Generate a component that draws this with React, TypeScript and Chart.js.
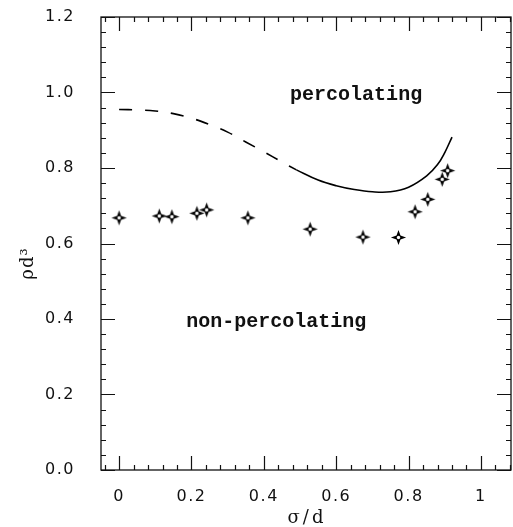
import React, { useEffect, useRef } from "react";
import { Chart, registerables } from "chart.js";

Chart.register(...registerables);

// Simulation points (sigma/d, rho d^3)
const sigmaData = [0.0, 0.111, 0.146, 0.215, 0.242, 0.356, 0.528, 0.674, 0.772, 0.818, 0.853, 0.893, 0.908];
const rhoData = [0.668, 0.673, 0.671, 0.68, 0.689, 0.668, 0.638, 0.617, 0.616, 0.684, 0.717, 0.77, 0.793];

// Theory curve: dashed part and solid part
const dashedSigma = [0, 0.05, 0.1, 0.15, 0.2, 0.25, 0.3, 0.35, 0.4, 0.45, 0.49];
const dashedRho = [0.955, 0.954, 0.951, 0.944, 0.932, 0.915, 0.895, 0.869, 0.843, 0.816, 0.795];
const solidSigma = [0.49, 0.55, 0.6, 0.65, 0.7, 0.75, 0.8, 0.85, 0.88, 0.9, 0.92];
const solidRho = [0.795, 0.768, 0.753, 0.743, 0.737, 0.737, 0.749, 0.779, 0.809, 0.841, 0.882];

// Axis ticks
const xTickValues = [0, 0.2, 0.4, 0.6, 0.8, 1];
const xTickLabels = ["0", "0.2", "0.4", "0.6", "0.8", "1"];
const yTickValues = [0, 0.2, 0.4, 0.6, 0.8, 1.0, 1.2];
const yTickLabels = ["0.0", "0.2", "0.4", "0.6", "0.8", "1.0", "1.2"];

// Region labels
const regionLabels = ["percolating", "non-percolating"];
const regionSigma = [0.655, 0.434];
const regionRho = [0.993, 0.392];

const xTitle = "σ/d";
const yTitle = "ρd³";

function makeStar(): HTMLCanvasElement {
  const s = 17;
  const c = document.createElement("canvas");
  c.width = s;
  c.height = s;
  const g = c.getContext("2d")!;
  const cx = s / 2;
  const cy = s / 2;
  const R = 7.6;
  const r = 2.8;
  g.beginPath();
  for (let i = 0; i < 8; i++) {
    const ang = (i * Math.PI) / 4 - Math.PI / 2;
    const rad = i % 2 === 0 ? R : r;
    const px = cx + rad * Math.cos(ang);
    const py = cy + rad * Math.sin(ang);
    if (i === 0) g.moveTo(px, py);
    else g.lineTo(px, py);
  }
  g.closePath();
  g.fillStyle = "#000";
  g.fill();
  g.beginPath();
  g.arc(cx, cy, 1.7, 0, Math.PI * 2);
  g.fillStyle = "#fff";
  g.fill();
  return c;
}

const framePlugin = {
  id: "framePlugin",
  beforeDraw(chart: any) {
    chart.ctx.letterSpacing = "1.5px";
  },
  afterDraw(chart: any) {
    const ctx = chart.ctx as CanvasRenderingContext2D;
    const { left, right, top, bottom } = chart.chartArea;
    const xs = chart.scales.x;
    const ys = chart.scales.y;
    ctx.save();
    (ctx as any).letterSpacing = "0px";
    ctx.strokeStyle = "#111";
    ctx.lineWidth = 1.3;
    ctx.strokeRect(left, top, right - left, bottom - top);

    const major = 14;
    const minor = 5;
    const step = 0.04;
    ctx.lineWidth = 1.2;
    ctx.beginPath();
    // x ticks (bottom and top, inward)
    for (let k = Math.ceil(xs.min / step); k <= Math.floor(xs.max / step); k++) {
      const v = k * step;
      const isMajor = Math.abs(v / 0.2 - Math.round(v / 0.2)) < 1e-6;
      const len = isMajor ? major : minor;
      const px = Math.round(xs.getPixelForValue(v)) + 0.5;
      ctx.moveTo(px, bottom);
      ctx.lineTo(px, bottom - len);
      ctx.moveTo(px, top);
      ctx.lineTo(px, top + len);
    }
    // y ticks (left and right, inward)
    for (let k = Math.ceil(ys.min / step); k <= Math.floor(ys.max / step + 1e-9); k++) {
      const v = k * step;
      const isMajor = Math.abs(v / 0.2 - Math.round(v / 0.2)) < 1e-6;
      const len = isMajor ? major : minor;
      const py = Math.round(ys.getPixelForValue(v)) + 0.5;
      ctx.moveTo(left, py);
      ctx.lineTo(left + len, py);
      ctx.moveTo(right, py);
      ctx.lineTo(right - len, py);
    }
    ctx.stroke();

    // region labels
    ctx.fillStyle = "#111";
    ctx.font = 'bold 20px "Liberation Mono"';
    ctx.textAlign = "center";
    ctx.textBaseline = "middle";
    regionLabels.forEach((lab, i) => {
      ctx.fillText(lab, xs.getPixelForValue(regionSigma[i]), ys.getPixelForValue(regionRho[i]));
    });

    // axis titles
    ctx.font = '18px "DejaVu Serif"';
    (ctx as any).letterSpacing = "3px";
    ctx.fillText(xTitle, (left + right) / 2 + 1, 518);
    ctx.save();
    ctx.translate(28, (top + bottom) / 2 + 20);
    ctx.rotate(-Math.PI / 2);
    (ctx as any).letterSpacing = "1px";
    ctx.fillText(yTitle, 0, 0);
    ctx.restore();
    ctx.restore();
  },
};

function zeroPadding(s: any) {
  s.paddingTop = 0;
  s.paddingBottom = 0;
  s.paddingLeft = 0;
  s.paddingRight = 0;
}

export default function App() {
  const ref = useRef<HTMLCanvasElement>(null);
  useEffect(() => {
    if (!ref.current) return;
    const star = makeStar();
    const chart = new Chart(ref.current, {
      type: "scatter",
      data: {
        datasets: [
          {
            label: "simulation",
            data: sigmaData.map((x, i) => ({ x, y: rhoData[i] })),
            pointStyle: star as any,
            pointRadius: 8,
            showLine: false,
          },
          {
            label: "theory (dashed)",
            data: dashedSigma.map((x, i) => ({ x, y: dashedRho[i] })),
            showLine: true,
            borderColor: "#000",
            borderWidth: 1.6,
            borderDash: [13, 13],
            pointRadius: 0,
            tension: 0.4,
          },
          {
            label: "theory",
            data: solidSigma.map((x, i) => ({ x, y: solidRho[i] })),
            showLine: true,
            borderColor: "#000",
            borderWidth: 1.6,
            pointRadius: 0,
            tension: 0.4,
          },
        ],
      },
      options: {
        animation: false,
        responsive: false,
        devicePixelRatio: 1,
        layout: { autoPadding: false, padding: { top: 17, right: 2, left: 0, bottom: 0 } },
        plugins: { legend: { display: false }, tooltip: { enabled: false } },
        scales: {
          x: {
            type: "linear",
            min: -0.05,
            max: 1.083,
            grid: { display: false },
            border: { display: false },
            afterBuildTicks: (s: any) => {
              s.ticks = xTickValues.map((v) => ({ value: v }));
            },
            afterFit: (s: any) => {
              s.height = 57;
              zeroPadding(s);
            },
            ticks: {
              padding: 9,
              color: "#111",
              font: { family: '"DejaVu Sans"', size: 16 },
              maxRotation: 0,
              autoSkip: false,
              callback: (v: any) => xTickLabels[xTickValues.indexOf(Number(v))] ?? "",
            },
          },
          y: {
            type: "linear",
            min: 0,
            max: 1.2,
            grid: { display: false },
            border: { display: false },
            afterBuildTicks: (s: any) => {
              s.ticks = yTickValues.map((v) => ({ value: v }));
            },
            afterFit: (s: any) => {
              s.width = 101;
              zeroPadding(s);
            },
            ticks: {
              padding: 18,
              color: "#111",
              font: { family: '"DejaVu Sans"', size: 16 },
              autoSkip: false,
              callback: (v: any) => yTickLabels[yTickValues.indexOf(Number(v))] ?? "",
            },
          },
        },
      },
      plugins: [framePlugin],
    });
    return () => chart.destroy();
  }, []);
  return (
    <div style={{ position: "fixed", left: 0, top: 0, width: 513, height: 527, background: "#fff" }}>
      <canvas ref={ref} width={513} height={527} style={{ display: "block" }} />
    </div>
  );
}
